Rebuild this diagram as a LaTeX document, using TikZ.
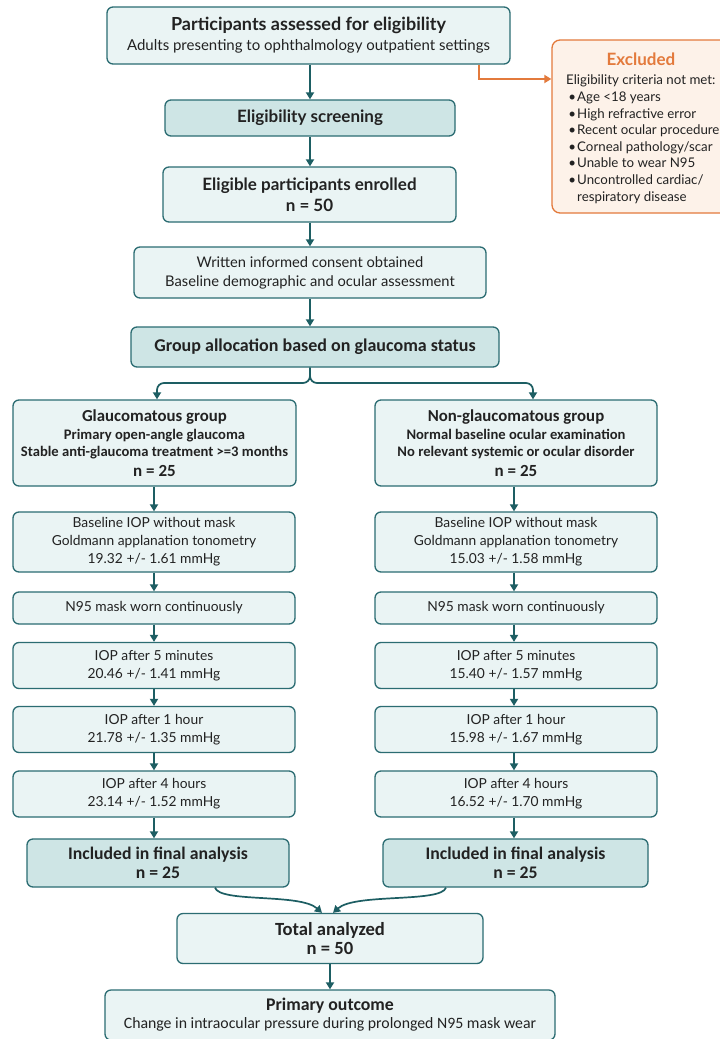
\documentclass[tikz,border=0pt]{standalone}
\usepackage{fontspec}
\setmainfont{Lato}
\newfontfamily\condfont{Carlito}
\usetikzlibrary{arrows.meta}
\definecolor{tealline}{HTML}{2B6C72}
\definecolor{tealarrow}{HTML}{1D5E63}
\definecolor{lightfill}{HTML}{EAF4F4}
\definecolor{headfill}{HTML}{CEE5E5}
\definecolor{orangeline}{HTML}{E37A3C}
\definecolor{orangefill}{HTML}{FDF2E9}
\definecolor{textcol}{HTML}{222222}
\begin{document}
\begin{tikzpicture}[x=1pt,y=-1pt,
  box/.style={draw=tealline, fill=lightfill, line width=1.3pt, rounded corners=6pt,
    align=center, inner sep=0pt, text=textcol},
  headbox/.style={box, fill=headfill},
  arr/.style={draw=tealarrow, line width=1.7pt, -{Triangle[length=7pt,width=8pt]}},
  oarr/.style={draw=orangeline, line width=1.7pt, -{Triangle[length=7pt,width=8pt]}},
  reg/.style={font=\fontsize{13.8}{18}\selectfont},
  bld/.style={font=\fontsize{17}{21}\selectfont\bfseries},
]
\useasboundingbox (0,0) rectangle (720,1039);
\fill[white] (0,0) rectangle (720,1039);
\coordinate (mid) at (310,0);
\coordinate (cl) at (154,0);
\coordinate (cr) at (514,0);

% top chain
\node[box, minimum width=403, minimum height=57, font=\fontsize{15}{20}\selectfont] (b1) at (308.5,35.5)
  {{\fontsize{18}{20}\selectfont\bfseries Participants assessed for eligibility}\\Adults presenting to ophthalmology outpatient settings};
\node[headbox, bld, minimum width=290, minimum height=36] (screen) at (310,118) {Eligibility screening};
\node[box, bld, minimum width=293, minimum height=55] (enrol) at (309.5,194.5) {Eligible participants enrolled\\n = 50};
\node[box, minimum width=352, minimum height=51, font=\fontsize{14.7}{19}\selectfont] (consent) at (310,272.5)
  {Written informed consent obtained\\Baseline demographic and ocular assessment};
\node[headbox, minimum width=368, minimum height=40, font=\condfont\fontsize{18}{19}\selectfont\bfseries] (alloc) at (315,347) {Group allocation based on glaucoma status};

% excluded
\node[draw=orangeline, fill=orangefill, line width=1.3pt, rounded corners=8pt,
  minimum width=190, minimum height=173, inner sep=0pt] (excl) at (647,126.5) {};
\node[text=orangeline, font=\fontsize{17}{18}\selectfont\bfseries] (exclhead) at (641,59) {Excluded};
\node[anchor=north west, align=left, inner sep=0pt, text=textcol, font=\fontsize{13.3}{16.6}\selectfont] (excltext) at (566,75)
  {Eligibility criteria not met:\\
   \makebox[11pt][l]{\,•}Age <18 years\\
   \makebox[11pt][l]{\,•}High refractive error\\
   \makebox[11pt][l]{\,•}Recent ocular procedure\\
   \makebox[11pt][l]{\,•}Corneal pathology/scar\\
   \makebox[11pt][l]{\,•}Unable to wear N95\\
   \makebox[11pt][l]{\,•}Uncontrolled cardiac/\\
   \makebox[11pt][l]{}respiratory disease};
\coordinate (oy) at (0,79);
\draw[oarr] (b1.south -| 479,0) |- (excl.west |- oy);

% groups
\node[box, minimum width=283, minimum height=86, font=\condfont\fontsize{14.6}{17.5}\selectfont\bfseries] (gl) at (154.5,443)
  {{\fontsize{16.8}{18}\selectfont Glaucomatous group}\\Primary open-angle glaucoma\\Stable anti-glaucoma treatment >=3 months\\[2pt]{\fontsize{17}{18}\selectfont n = 25}};
\node[box, minimum width=282, minimum height=86, font=\condfont\fontsize{14.6}{17.5}\selectfont\bfseries] (ng) at (516,443)
  {{\fontsize{16.8}{18}\selectfont Non-glaucomatous group}\\Normal baseline ocular examination\\No relevant systemic or ocular disorder\\[2pt]{\fontsize{17}{18}\selectfont n = 25}};

% left column
\node[box, reg, minimum width=282, minimum height=60] (bl) at (154,542) {Baseline IOP without mask\\Goldmann applanation tonometry\\19.32 +/- 1.61 mmHg};
\node[box, reg, minimum width=282, minimum height=32] (ml) at (154,608) {N95 mask worn continuously};
\node[box, reg, minimum width=282, minimum height=46] (l5) at (154,665.5) {IOP after 5 minutes\\20.46 +/- 1.41 mmHg};
\node[box, reg, minimum width=282, minimum height=46] (l1) at (154,729.5) {IOP after 1 hour\\21.78 +/- 1.35 mmHg};
\node[box, reg, minimum width=282, minimum height=46] (l4) at (154,794) {IOP after 4 hours\\23.14 +/- 1.52 mmHg};
\node[headbox, minimum width=262, minimum height=48, font=\condfont\fontsize{17.7}{19}\selectfont\bfseries] (il) at (158,863) {Included in final analysis\\n = 25};

% right column
\node[box, reg, minimum width=282, minimum height=60] (br) at (516,542) {Baseline IOP without mask\\Goldmann applanation tonometry\\15.03 +/- 1.58 mmHg};
\node[box, reg, minimum width=282, minimum height=32] (mr) at (516,608) {N95 mask worn continuously};
\node[box, reg, minimum width=282, minimum height=46] (r5) at (516,665.5) {IOP after 5 minutes\\15.40 +/- 1.57 mmHg};
\node[box, reg, minimum width=282, minimum height=46] (r1) at (516,729.5) {IOP after 1 hour\\15.98 +/- 1.67 mmHg};
\node[box, reg, minimum width=282, minimum height=46] (r4) at (516,794) {IOP after 4 hours\\16.52 +/- 1.70 mmHg};
\node[headbox, minimum width=265, minimum height=48, font=\condfont\fontsize{17.7}{19}\selectfont\bfseries] (ir) at (515.5,863) {Included in final analysis\\n = 25};

% bottom
\node[box, minimum width=306, minimum height=50, font=\condfont\fontsize{18.6}{19}\selectfont\bfseries] (tot) at (330,938.5) {Total analyzed\\n = 50};
\node[box, minimum width=450, minimum height=50, font=\condfont\fontsize{15.8}{18}\selectfont] (prim) at (330,1015)
  {{\fontsize{17.8}{18}\selectfont\bfseries Primary outcome}\\Change in intraocular pressure during prolonged N95 mask wear};

% connectors
\draw[arr] (b1.south -| mid) -- (screen.north -| mid);
\draw[arr] (screen.south -| mid) -- (enrol.north -| mid);
\draw[arr] (enrol.south -| mid) -- (consent.north -| mid);
\draw[arr] (consent.south -| mid) -- (alloc.north -| mid);
\coordinate (ls) at (157,383);
\coordinate (rs) at (533,383);
\draw[arr, rounded corners=7pt] (alloc.south -| mid) |- (ls) -- (gl.north -| ls);
\draw[arr, rounded corners=7pt] (alloc.south -| mid) |- (rs) -- (ng.north -| rs);

\draw[arr] (gl.south -| cl) -- (bl.north -| cl);
\draw[arr] (bl.south -| cl) -- (ml.north -| cl);
\draw[arr] (ml.south -| cl) -- (l5.north -| cl);
\draw[arr] (l5.south -| cl) -- (l1.north -| cl);
\draw[arr] (l1.south -| cl) -- (l4.north -| cl);
\draw[arr] (l4.south -| cl) -- (il.north -| cl);

\draw[arr] (ng.south -| cr) -- (br.north -| cr);
\draw[arr] (br.south -| cr) -- (mr.north -| cr);
\draw[arr] (mr.south -| cr) -- (r5.north -| cr);
\draw[arr] (r5.south -| cr) -- (r1.north -| cr);
\draw[arr] (r1.south -| cr) -- (r4.north -| cr);
\draw[arr] (r4.south -| cr) -- (ir.north -| cr);

\coordinate (ml1) at (215,0);
\coordinate (mr1) at (446,0);
\coordinate (tl) at (322,0);
\coordinate (tr) at (333,0);
\draw[arr] (il.south -| ml1) .. controls (220,903) and (300,893) .. (tot.north -| tl);
\draw[arr] (ir.south -| mr1) .. controls (441,903) and (355,893) .. (tot.north -| tr);
\draw[arr] (tot.south -| tot.center) -- (prim.north -| tot.center);
\end{tikzpicture}
\end{document}
